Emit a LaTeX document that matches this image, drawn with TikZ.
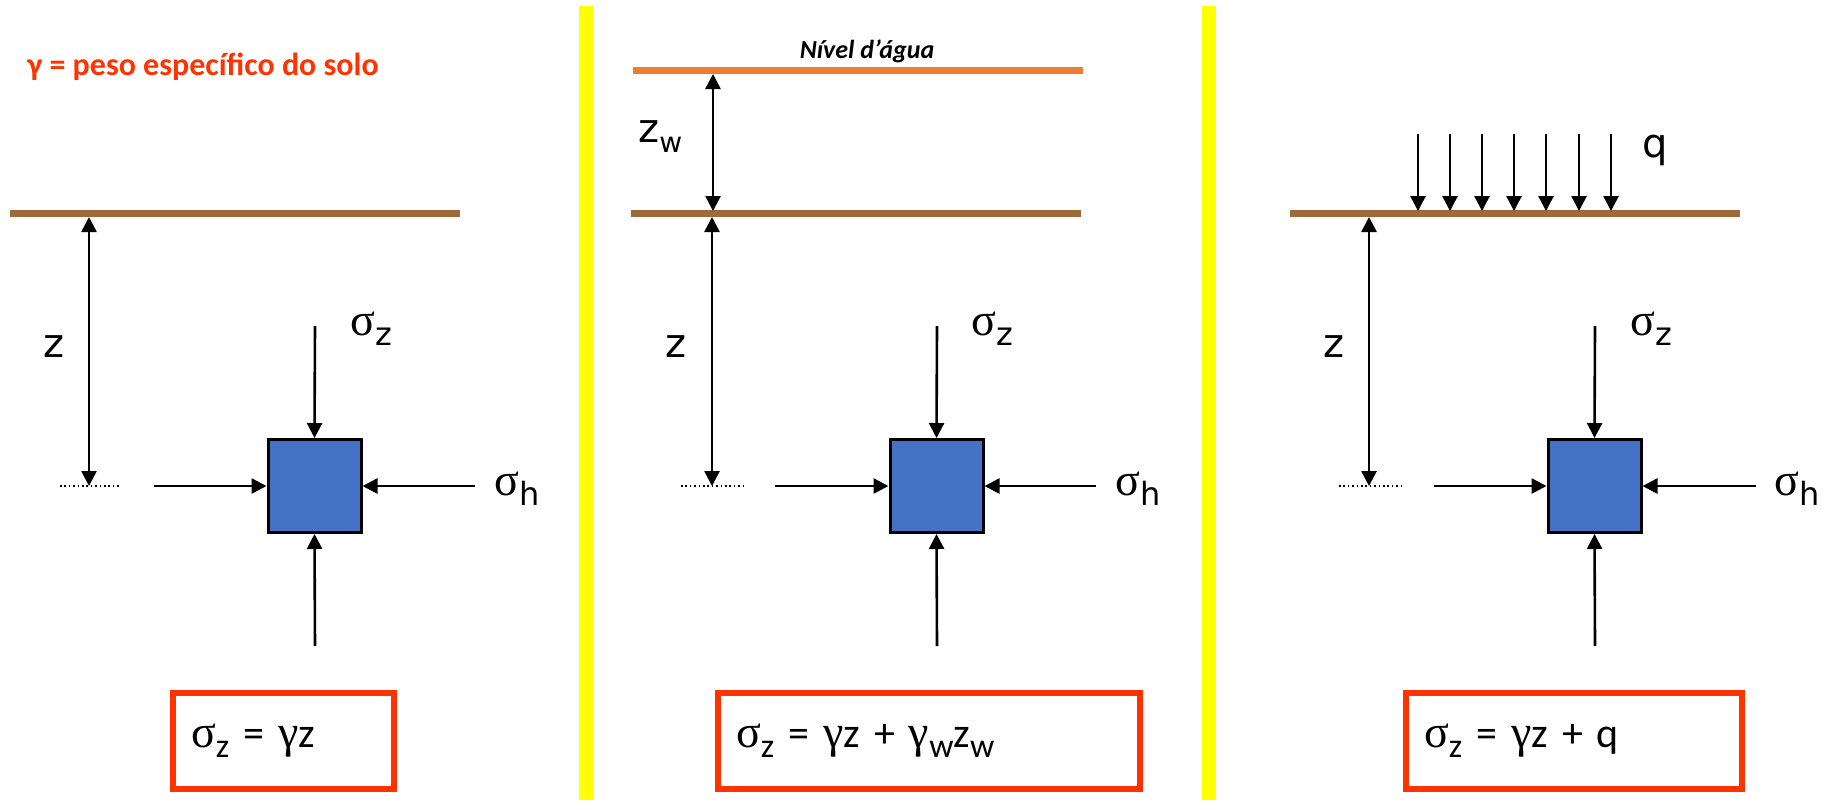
\documentclass[tikz,border=0pt]{standalone}
\usepackage{fontspec}
\setmainfont{Carlito}
\newfontfamily\lblfont{DejaVu Sans}
\newfontfamily\grkfont{Liberation Serif}
\usetikzlibrary{arrows.meta}
\definecolor{soilbrown}{RGB}{158,107,56}
\definecolor{waterorange}{RGB}{237,125,49}
\definecolor{eqred}{RGB}{255,51,0}
\definecolor{elemblue}{RGB}{68,114,196}
\definecolor{baryellow}{RGB}{255,255,0}
\newcommand{\gr}[1]{{\grkfont\fontsize{23}{27}\selectfont #1}}
\newcommand{\lo}[2]{\raisebox{-5pt}{\fontsize{#1}{#1}\selectfont #2}}

\begin{document}
\begin{tikzpicture}[x=0.5pt,y=-0.5pt,>={Triangle[width=7.5pt,length=7.5pt]},
  force/.style={->,line width=1.3pt},
  dim/.style={<->,line width=1.3pt},
  soil/.style={soilbrown,line width=3.5pt},
  datum/.style={line width=0.75pt,dash pattern=on 0.8pt off 1.4pt},
  elem/.style={draw=black,line width=1.5pt,fill=elemblue,minimum size=46.5pt,inner sep=0pt},
  lbl/.style={anchor=base west,inner sep=0pt,font=\lblfont\fontsize{20}{24}\selectfont},
  eqbox/.style={draw=eqred,line width=3pt,anchor=west,minimum height=48pt,inner xsep=9pt,
    align=left,font=\fontsize{21}{25}\selectfont}]
  \useasboundingbox (0,0) rectangle (1824,800);

  \fill[baryellow] (579,6) rectangle (594,800);
  \fill[baryellow] (1202,6) rectangle (1216,800);

  \node[anchor=base west,inner sep=0pt,text=eqred,font=\bfseries\fontsize{16}{19}\selectfont]
    (title) at (27,75) {γ = peso específico do solo};

  \draw[soil] (10,213.5) -- (460,213.5);
  \coordinate (g1) at (89,217);
  \coordinate (d1) at (89,486);
  \draw[datum] (60,486) -- (121,486);
  \draw[dim] (g1) -- (d1);
  \node[lbl] (z1) at (43,357) {z};
  \node[elem] (sq1) at (314.5,486) {};
  \coordinate (t1) at (315,326);
  \coordinate (b1) at (315,646);
  \coordinate (l1) at (154,486);
  \coordinate (r1) at (475,486);
  \draw[force] (t1) -- (sq1.north);
  \draw[force] (b1) -- (sq1.south);
  \draw[force] (l1) -- (sq1.west);
  \draw[force] (r1) -- (sq1.east);
  \node[lbl] (sz1) at (350,335) {\gr{σ}\lo{16}{z}};
  \node[lbl] (sh1) at (494,495) {\gr{σ}\lo{16}{h}};
  \node[eqbox,text width=92.5pt] (eq1) at (170,741) {\gr{σ}\lo{17}{z} = \gr{γ}z};

  \node[anchor=base,inner sep=0pt,font=\bfseries\itshape\fontsize{13}{15}\selectfont]
    (wl) at (867,58) {Nível d’água};
  \draw[waterorange,line width=3.5pt] (633,70) -- (1083,70);
  \draw[soil] (631,213.5) -- (1081,213.5);
  \coordinate (w2a) at (713,74);
  \coordinate (w2b) at (713,211);
  \draw[dim] (w2a) -- (w2b);
  \node[lbl] (zw2) at (638,142) {z\lo{14}{w}};
  \coordinate (g2) at (712,217);
  \coordinate (d2) at (712,486);
  \draw[datum] (681,486) -- (743,486);
  \draw[dim] (g2) -- (d2);
  \node[lbl] (z2) at (665,357) {z};
  \node[elem] (sq2) at (936.5,486) {};
  \coordinate (t2) at (937,326);
  \coordinate (b2) at (937,646);
  \coordinate (l2) at (775,486);
  \coordinate (r2) at (1096,486);
  \draw[force] (t2) -- (sq2.north);
  \draw[force] (b2) -- (sq2.south);
  \draw[force] (l2) -- (sq2.west);
  \draw[force] (r2) -- (sq2.east);
  \node[lbl] (sz2) at (971,335) {\gr{σ}\lo{16}{z}};
  \node[lbl] (sh2) at (1115,495) {\gr{σ}\lo{16}{h}};
  \node[eqbox,text width=193pt] (eq2) at (715,741)
    {\gr{σ}\lo{17}{z} = \gr{γ}z + \gr{γ}\lo{17}{w}z\lo{17}{w}};

  \draw[soil] (1290,213.5) -- (1740,213.5);
  \foreach \i/\xq in {1/1418,2/1450,3/1482,4/1514,5/1546,6/1579,7/1611} {
    \coordinate (qa\i) at (\xq,134);
    \coordinate (qb\i) at (\xq,211);
    \draw[force] (qa\i) -- (qb\i);
  }
  \node[lbl] (q3) at (1642,157) {q};
  \coordinate (g3) at (1369,217);
  \coordinate (d3) at (1369,486);
  \draw[datum] (1339,486) -- (1402,486);
  \draw[dim] (g3) -- (d3);
  \node[lbl] (z3) at (1323,357) {z};
  \node[elem] (sq3) at (1594.5,486) {};
  \coordinate (t3) at (1595,326);
  \coordinate (b3) at (1595,646);
  \coordinate (l3) at (1434,486);
  \coordinate (r3) at (1756,486);
  \draw[force] (t3) -- (sq3.north);
  \draw[force] (b3) -- (sq3.south);
  \draw[force] (l3) -- (sq3.west);
  \draw[force] (r3) -- (sq3.east);
  \node[lbl] (sz3) at (1630,335) {\gr{σ}\lo{16}{z}};
  \node[lbl] (sh3) at (1774,495) {\gr{σ}\lo{16}{h}};
  \node[eqbox,text width=150pt] (eq3) at (1403,741) {\gr{σ}\lo{17}{z} = \gr{γ}z + q};
\end{tikzpicture}
\end{document}
